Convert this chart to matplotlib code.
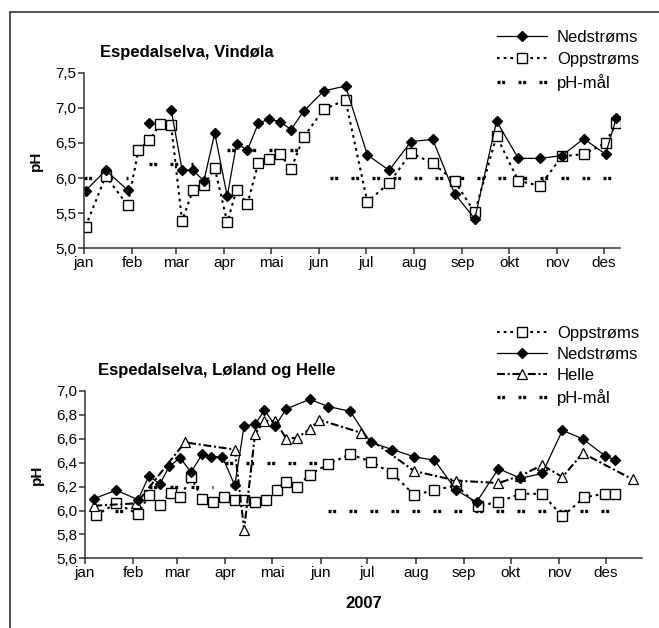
import numpy as np
import matplotlib
matplotlib.use('Agg')
import matplotlib.pyplot as plt
from matplotlib.patches import Rectangle

plt.rcParams['font.family'] = ['Liberation Sans', 'DejaVu Sans']

# month ticks (day of year, jan 1 = 0)
month_days = [0, 31, 59, 90, 120, 151, 181, 212, 243, 273, 304, 334]
month_names = ['jan', 'feb', 'mar', 'apr', 'mai', 'jun', 'jul', 'aug', 'sep', 'okt', 'nov', 'des']

# --- Espedalselva, Vindøla ---
days_top = [1, 14, 28, 35, 42, 49, 56, 63, 70, 77, 84, 92, 98, 105, 112, 119, 126, 133, 141,
            154, 168, 182, 196, 210, 224, 238, 251, 265, 279, 293, 307, 321, 335, 342]
ned_top = [5.82, 6.11, 5.83, np.nan, 6.79, np.nan, 6.97, 6.12, 6.11, 5.96, 6.64, 5.74, 6.49, 6.40,
           6.78, 6.84, 6.80, 6.69, 6.95, 7.24, 7.31, 6.33, 6.11, 6.52, 6.55, 5.78, 5.42, 6.81,
           6.28, 6.28, 6.32, 6.56, 6.34, 6.86]
opp_top = [5.31, 6.03, 5.61, 6.40, 6.54, 6.77, 6.75, 5.39, 5.83, 5.90, 6.14, 5.37, 5.83, 5.63,
           6.22, 6.27, 6.34, 6.13, 6.58, 6.98, 7.11, 5.66, 5.93, 6.36, 6.21, 5.96, 5.51, 6.60,
           5.96, 5.89, 6.31, 6.34, 6.50, 6.78]
tgt_top_start = [0, 42, 92, 158]
tgt_top_end = [28, 70, 141, 344]
tgt_top_val = [6.0, 6.2, 6.4, 6.0]
yticks_top = [5.0, 5.5, 6.0, 6.5, 7.0, 7.5]
ylabels_top = ['5,0', '5,5', '6,0', '6,5', '7,0', '7,5']

# --- Espedalselva, Løland og Helle ---
days_bot_ned = [6, 20, 34, 41, 48, 54, 61, 68, 75, 81, 88, 96, 102, 109, 115, 122, 129, 144,
                156, 170, 183, 197, 211, 224, 238, 251, 265, 279, 293, 306, 319, 333, 340]
ned_bot = [6.10, 6.17, 6.09, 6.29, 6.22, 6.37, 6.44, 6.32, 6.47, 6.45, 6.45, 6.21, 6.71, 6.72,
           6.84, 6.71, 6.85, 6.93, 6.87, 6.83, 6.57, 6.51, 6.45, 6.42, 6.17, 6.07, 6.35, 6.27,
           6.31, 6.67, 6.60, 6.46, 6.42]
days_bot_opp = [7, 20, 34, 41, 48, 55, 61, 68, 75, 82, 89, 96, 102, 109, 116, 123, 129, 136,
                144, 156, 170, 183, 197, 211, 224, 238, 252, 265, 279, 293, 306, 320, 333, 340]
opp_bot = [5.96, 6.06, 5.97, 6.13, 6.05, 6.15, 6.11, 6.28, 6.10, 6.07, 6.11, 6.09, 6.09, 6.07,
           6.09, 6.17, 6.24, 6.20, 6.30, 6.39, 6.47, 6.41, 6.31, 6.13, 6.17, 6.21, 6.04, 6.07,
           6.14, 6.14, 5.95, 6.11, 6.14, 6.14]
days_helle = [6, 33, 64, 96, 102, 109, 115, 122, 129, 136, 144, 150, 177, 211, 238, 265, 279,
              293, 306, 319, 351]
helle = [6.04, 6.06, 6.57, 6.51, 5.84, 6.64, 6.75, 6.75, 6.60, 6.61, 6.68, 6.76, 6.65, 6.33,
         6.25, 6.23, 6.29, 6.38, 6.28, 6.48, 6.26]
tgt_bot_start = [6, 41, 90, 156]
tgt_bot_end = [34, 82, 150, 341]
tgt_bot_val = [6.0, 6.2, 6.4, 6.0]
yticks_bot = [5.6, 5.8, 6.0, 6.2, 6.4, 6.6, 6.8, 7.0]
ylabels_bot = ['5,6', '5,8', '6,0', '6,2', '6,4', '6,6', '6,8', '7,0']

W, H = 659, 628
fig = plt.figure(figsize=(W / 100, H / 100), dpi=100)

# outer frame
fig.patches.append(Rectangle((10 / W, -0.1), 1.2, 1 - 12 / H + 0.1, transform=fig.transFigure,
                             fill=False, lw=1.2, ec='#333333', clip_on=False))

ned_style = dict(color='black', lw=0.9, marker='D', ms=5, mfc='black', mec='black')
opp_style = dict(color='black', lw=1.5, ls=(0, (1.3, 1.9)), marker='s', ms=6.5, mfc='white',
                 mec='black', mew=1.0)
helle_style = dict(color='black', lw=1.5, ls=(0, (3.8, 1.3, 1.0, 1.3)), marker='^', ms=7,
                   mfc='white', mec='black', mew=0.9)
tgt_style = dict(color='black', lw=2.4, ls=(0, (0.9, 0.5, 0.9, 4.0)))


def axes_px(x0, x1, ytop, ybot):
    return fig.add_axes([x0 / W, 1 - ybot / H, (x1 - x0) / W, (ybot - ytop) / H])


def style_axes(ax, yticks, ylabels, xmax):
    ax.set_xlim(0, xmax)
    ax.set_ylim(yticks[0], yticks[-1])
    ax.set_xticks(month_days)
    ax.set_xticklabels(month_names)
    ax.set_yticks(yticks)
    ax.set_yticklabels(ylabels)
    for s in ['top', 'right']:
        ax.spines[s].set_visible(False)
    for s in ['left', 'bottom']:
        ax.spines[s].set_color('#333333')
        ax.spines[s].set_linewidth(1.1)
    ax.tick_params(direction='out', length=4.3, width=1.1, color='#333333', labelsize=11, pad=1)
    ax.set_ylabel('pH', fontsize=11, fontweight='bold', labelpad=9)
    ax.patch.set_alpha(0)


def plot_target(ax, starts, ends, vals):
    xs, ys = [], []
    for a, b, v in zip(starts, ends, vals):
        xs += [a, b, np.nan]
        ys += [v, v, np.nan]
    return ax.plot(xs, ys, **tgt_style)[0]


# top chart
ax1 = axes_px(84, 620, 72.7, 248.3)
style_axes(ax1, yticks_top, ylabels_top, 344.3)
l_tgt = plot_target(ax1, tgt_top_start, tgt_top_end, tgt_top_val)
l_opp, = ax1.plot(days_top, opp_top, **opp_style)
l_ned, = ax1.plot(days_top, ned_top, **ned_style)
ax1.text(100 / W, 1 - 52 / H, 'Espedalselva, Vindøla', transform=fig.transFigure,
         fontsize=12, fontweight='bold', va='center', ha='left')
fig.legend([l_ned, l_opp, l_tgt], ['Nedstrøms', 'Oppstrøms', 'pH-mål'],
           loc='upper left', bbox_to_anchor=(497 / W, 1 - 30 / H), frameon=False,
           fontsize=12, handlelength=3.0, handletextpad=0.6, labelspacing=0.42,
           borderpad=0, borderaxespad=0)

# bottom chart
ax2 = axes_px(85, 642, 391, 558.3)
style_axes(ax2, yticks_bot, ylabels_bot, 357)
t_tgt = plot_target(ax2, tgt_bot_start, tgt_bot_end, tgt_bot_val)
t_opp, = ax2.plot(days_bot_opp, opp_bot, **opp_style)
t_hel, = ax2.plot(days_helle, helle, **helle_style)
t_ned, = ax2.plot(days_bot_ned, ned_bot, **ned_style)
ax2.text(98 / W, 1 - 371 / H, 'Espedalselva, Løland og Helle', transform=fig.transFigure,
         fontsize=12, fontweight='bold', va='center', ha='left')
ax2.set_xlabel('2007', fontsize=12, fontweight='bold', labelpad=12)
fig.legend([t_opp, t_ned, t_hel, t_tgt], ['Oppstrøms', 'Nedstrøms', 'Helle', 'pH-mål'],
           loc='upper left', bbox_to_anchor=(497 / W, 1 - 326 / H), frameon=False,
           fontsize=12, handlelength=3.0, handletextpad=0.6, labelspacing=0.36,
           borderpad=0, borderaxespad=0)

fig.savefig('out.png', dpi=100)
